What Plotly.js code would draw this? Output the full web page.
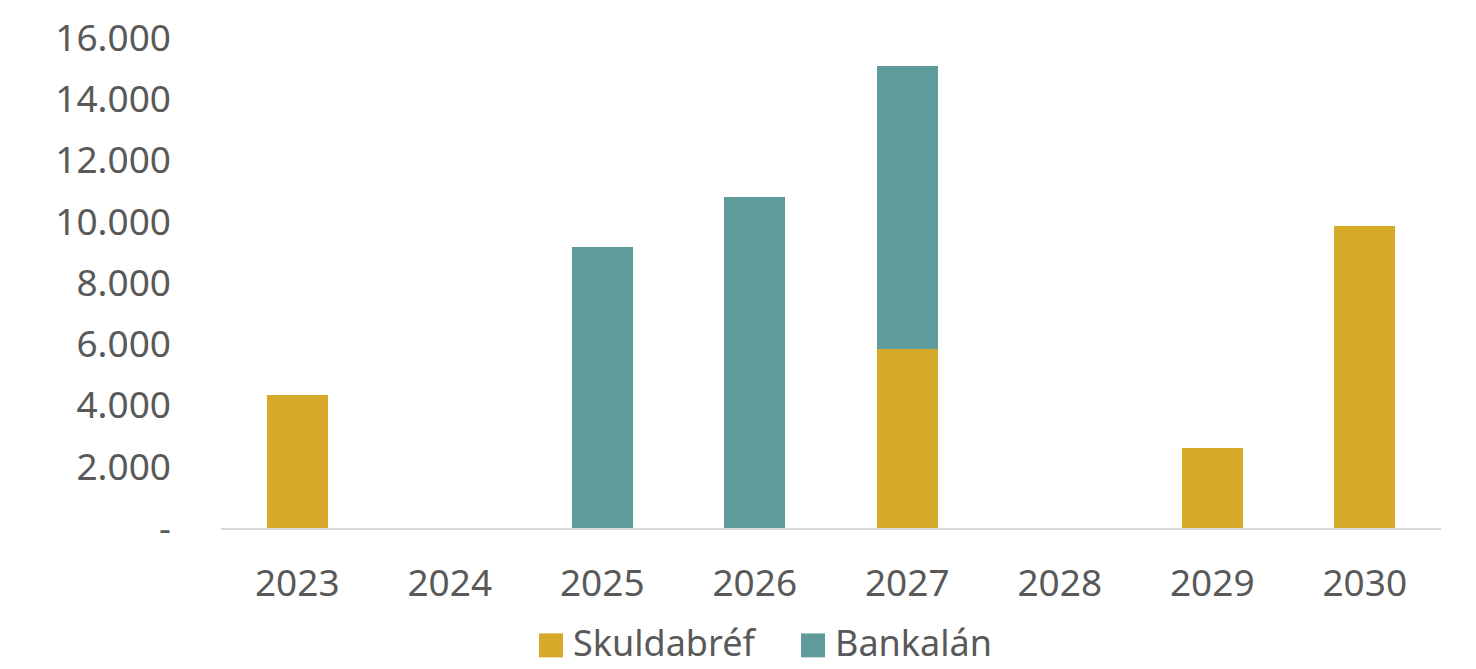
<!DOCTYPE html>
<html>
<head>
<meta charset="utf-8">
<script src="https://cdn.plot.ly/plotly-3.0.1.min.js"></script>
<style>html,body{margin:0;padding:0;background:#fff;}#chart{width:1476px;height:669px;}</style>
</head>
<body>
<div id="chart"></div>
<script>
const years = ['2023','2024','2025','2026','2027','2028','2029','2030'];
const skuldabref = [4350, 0, 0, 0, 5855, 0, 2610, 9850];
const bankalan = [0, 0, 9180, 10810, 9215, 0, 0, 0];
const yTickVals = [0, 2000, 4000, 6000, 8000, 10000, 12000, 14000, 16000];
const yTickText = ['-', '2.000', '4.000', '6.000', '8.000', '10.000', '12.000', '14.000', '16.000'];
const seriesNames = ['Skuldabréf', 'Bankalán'];
const seriesColors = ['#D6A928', '#5F9B9A'];

const fontFam = 'Noto Sans, Open Sans, sans-serif';
const W = 1476, H = 669;
const M = {l:221, r:35, t:38, b:140.5};
const pw = W - M.l - M.r, ph = H - M.t - M.b;
const px = v => (v - M.l) / pw;          // pixel -> paper x
const py = v => (H - M.b - v) / ph;      // pixel -> paper y

const data = [
  {type:'bar', name:seriesNames[0], x:years, y:skuldabref, marker:{color:seriesColors[0], line:{width:0}}, showlegend:false},
  {type:'bar', name:seriesNames[1], x:years, y:bankalan, marker:{color:seriesColors[1], line:{width:0}}, showlegend:false}
];

// manual legend (larger swatches like the reference)
const legendSwatchX = [539, 801];
const legendTextX = [572, 834];
const shapes = [], annotations = [];
seriesNames.forEach((n, i) => {
  shapes.push({type:'rect', xref:'paper', yref:'paper', x0:px(legendSwatchX[i]), x1:px(legendSwatchX[i]+24),
               y0:py(634), y1:py(658), fillcolor:seriesColors[i], line:{width:0}});
  annotations.push({xref:'paper', yref:'paper', x:px(legendTextX[i]), y:py(669), xanchor:'left', yanchor:'bottom',
               borderpad:0, text:n, showarrow:false, font:{size:36, color:'#595959', family:fontFam}});
});

const layout = {
  width:W, height:H,
  barmode:'stack', bargap:0.6,
  margin:M,
  paper_bgcolor:'#fff', plot_bgcolor:'#fff',
  font:{family:fontFam, size:37, color:'#595959'},
  xaxis:{type:'category', showgrid:false, showline:true, linecolor:'#d9d9d9', linewidth:2,
         ticks:'', ticklabelstandoff:22, tickfont:{size:37, color:'#595959'}},
  yaxis:{range:[0,16000], tickvals:yTickVals, ticktext:yTickText, showgrid:false, zeroline:false,
         showline:false, ticks:'', ticklabelstandoff:49, tickfont:{size:37, color:'#595959'}},
  showlegend:false,
  shapes:shapes, annotations:annotations
};
Plotly.newPlot('chart', data, layout, {displayModeBar:false, staticPlot:true});
</script>
</body>
</html>
